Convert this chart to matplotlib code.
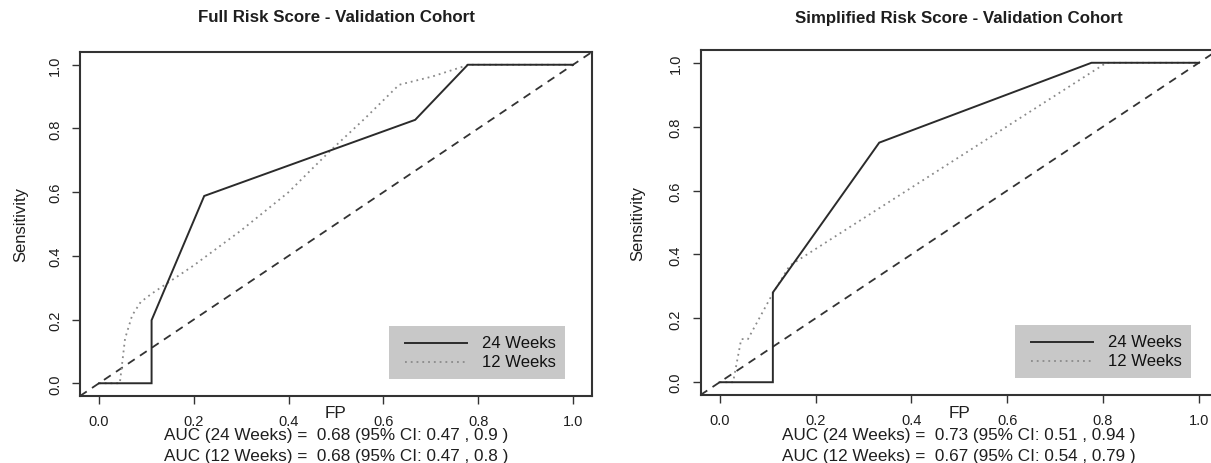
import matplotlib
matplotlib.use("Agg")
import matplotlib.pyplot as plt
from matplotlib.transforms import blended_transform_factory
from matplotlib.patches import Rectangle
from matplotlib.lines import Line2D

plt.rcParams['font.family'] = ['Liberation Sans', 'DejaVu Sans']

# ---- data ----
titles = ["Full Risk Score - Validation Cohort", "Simplified Risk Score - Validation Cohort"]
series_names = ["24 Weeks", "12 Weeks"]

full_24_fp = [0.0, 0.111, 0.111, 0.222, 0.667, 0.778, 1.0]
full_24_sens = [0.0, 0.0, 0.198, 0.588, 0.827, 1.0, 1.0]
full_12_fp = [0.0, 0.044, 0.055, 0.07, 0.088, 0.111, 0.2, 0.3, 0.4, 0.488, 0.56, 0.633, 0.703, 0.78, 1.0]
full_12_sens = [0.0, 0.0, 0.14, 0.213, 0.255, 0.281, 0.37, 0.48, 0.6, 0.73, 0.83, 0.937, 0.963, 1.0, 1.0]

simp_24_fp = [0.0, 0.111, 0.111, 0.333, 0.776, 1.0]
simp_24_sens = [0.0, 0.0, 0.281, 0.75, 1.0, 1.0]
simp_12_fp = [0.0, 0.028, 0.045, 0.059, 0.108, 0.146, 0.807, 1.0]
simp_12_sens = [0.0, 0.0, 0.135, 0.135, 0.27, 0.365, 1.0, 1.0]

auc_texts = [
    ["AUC (24 Weeks) =  0.68 (95% CI: 0.47 , 0.9 )",
     "AUC (12 Weeks) =  0.68 (95% CI: 0.47 , 0.8 )"],
    ["AUC (24 Weeks) =  0.73 (95% CI: 0.51 , 0.94 )",
     "AUC (12 Weeks) =  0.67 (95% CI: 0.54 , 0.79 )"],
]
ticks = [0.0, 0.2, 0.4, 0.6, 0.8, 1.0]
tick_labels = ["0.0", "0.2", "0.4", "0.6", "0.8", "1.0"]

curves = [
    [(full_24_fp, full_24_sens), (full_12_fp, full_12_sens)],
    [(simp_24_fp, simp_24_sens), (simp_12_fp, simp_12_sens)],
]

# ---- styling ----
W, H = 1211, 464
fig = plt.figure(figsize=(W / 100, H / 100), dpi=100)

boxes = [(80, 53, 592, 397), (700.5, 51, 1218, 396)]  # left, top, right, bottom in px
ylabel_x = [21, 638]
frame_col = "#333333"
text_col = "#1e1e1e"
solid_style = dict(color="#2b2b2b", lw=1.4, solid_joinstyle="miter")
dotted_style = dict(color="#8a8a8a", lw=1.3, linestyle=(0, (1, 2.2)))

for i, (l, t, r, b) in enumerate(boxes):
    aw, ah = r - l, b - t
    ax = fig.add_axes([l / W, 1 - b / H, aw / W, ah / H])
    ax.set_xlim(-0.04, 1.04)
    ax.set_ylim(-0.04, 1.04)
    (x24, y24), (x12, y12) = curves[i]
    ax.plot([-0.04, 1.04], [-0.04, 1.04], color="#333333", lw=1.3,
            linestyle=(0, (4.5, 3.5)), zorder=1)
    ax.plot(x24, y24, zorder=3, **solid_style)
    ax.plot(x12, y12, zorder=2, **dotted_style)
    for sp in ax.spines.values():
        sp.set_color(frame_col)
        sp.set_linewidth(1.5)
    ax.set_xticks(ticks)
    ax.set_xticklabels(tick_labels)
    ax.set_yticks(ticks)
    ax.set_yticklabels(tick_labels, rotation=90, va="center")
    ax.tick_params(axis="both", direction="out", length=5.8, width=1.0,
                   color="#333333", labelsize=10.5, labelcolor=text_col)
    ax.tick_params(axis="x", pad=7.5)
    ax.tick_params(axis="y", pad=7)

    tr = blended_transform_factory(ax.transData, fig.transFigure)
    ax.text(0.5, 1 - 18 / H, titles[i], transform=tr, ha="center", va="center",
            fontsize=12.2, fontweight="bold", color=text_col)

    fig.text(ylabel_x[i] / W, 1 - ((t + b) / 2) / H, "Sensitivity", rotation=90,
             ha="center", va="center", fontsize=12, color=text_col)

    ax.text(0.5, 1 - 414 / H, "FP", transform=tr, ha="center", va="center",
            fontsize=12.3, color=text_col)
    ax.text(0.5, 1 - 436 / H, auc_texts[i][0], transform=tr, ha="center",
            va="center", fontsize=12.3, color=text_col)
    ax.text(0.5, 1 - 457 / H, auc_texts[i][1], transform=tr, ha="center",
            va="center", fontsize=12.3, color=text_col)

    # legend (R style: grey box, bottom right), offsets in px from axes bottom-right
    fx = lambda d: 1 - d / aw
    fy = lambda d: d / ah
    ax.add_patch(Rectangle((fx(203), fy(17)), 176 / aw, 53 / ah,
                           transform=ax.transAxes, facecolor="#c8c8c8",
                           edgecolor="none", zorder=5))
    for k, (name, sty) in enumerate(zip(series_names, [solid_style, dotted_style])):
        yy = fy(53 - 18.5 * k)
        ax.add_line(Line2D([fx(187), fx(125)], [yy, yy], transform=ax.transAxes,
                           zorder=6, **sty))
        ax.text(fx(36), yy, name, transform=ax.transAxes, ha="right",
                va="center", fontsize=12, color="#111111", zorder=7)

fig.savefig("out.png", dpi=100)
